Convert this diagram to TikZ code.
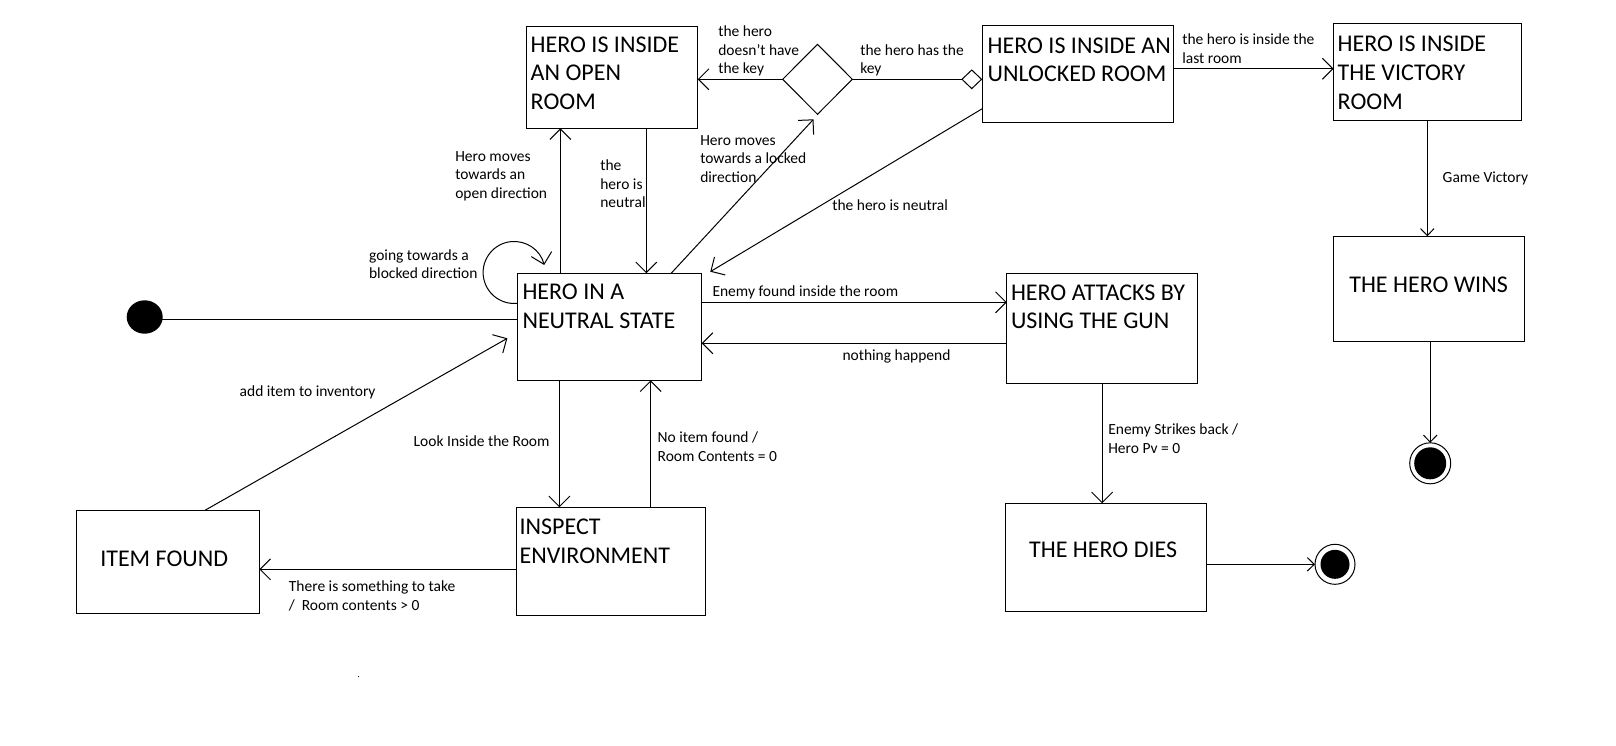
\documentclass[tikz,border=0pt]{standalone}
\usepackage{fontspec}
\setmainfont{Carlito}
\usetikzlibrary{arrows.meta,shapes.geometric,calc}
\begin{document}
\begin{tikzpicture}[x=1pt,y=-1pt,line width=1pt,
  every node/.style={inner sep=0pt,outer sep=0pt},
  box/.style 2 args={draw,rectangle,minimum width=#1,minimum height=#2},
  big/.style={font=\fontsize{24}{28.8}\selectfont,align=left,anchor=base west},
  small/.style={font=\fontsize{15.5}{18.5}\selectfont,align=left,anchor=base west},
  arr/.style={-{Straight Barb[length=10.5pt,width=21pt]}},
  arrs/.style={-{Straight Barb[length=7pt,width=13.5pt]}},
  dia/.style={-{Diamond[open,length=21pt,width=20pt]}}]
\fill[white] (0,0) rectangle (1616,745);
\useasboundingbox (0,0) rectangle (1616,745);

% states
\node[box={171.4pt}{102pt}] (openroom) at (612,77.3) {};
\node[box={191.5pt}{97pt}] (unlocked) at (1078,73.8) {};
\node[box={187.5pt}{96.6pt}] (victory) at (1427.3,72) {};
\node[box={191pt}{105pt}] (wins) at (1428.8,288.8) {};
\node[box={184.3pt}{107pt}] (neutral) at (609.5,326.8) {};
\node[box={190.7pt}{110pt}] (attack) at (1102.1,328.3) {};
\node[box={201pt}{108pt}] (dies) at (1106,557.3) {};
\node[box={189pt}{108pt}] (inspect) at (611.2,561.3) {};
\node[box={182.7pt}{103pt}] (item) at (168,561.8) {};
\node[draw,diamond,minimum width=69.6pt,minimum height=70pt] (dec) at (817.5,79.3) {};
\node[ellipse,fill=black,minimum width=36pt,minimum height=33.4pt] (init) at (144.7,317) {};
\node[circle,draw,fill=white,minimum size=40pt] (fin1) at (1335,564.3) {};
\fill (fin1.center) circle[radius=14.5];
\node[circle,draw,fill=white,minimum size=41pt] (fin2) at (1430.2,463.3) {};
\fill (fin2.center) circle[radius=16];

% state texts (anchor = baseline of the last line)
\node[big] (t-open) at (530.7,109.6) {HERO IS INSIDE\\AN OPEN\\ROOM};
\node[big] (t-unl) at (987.7,81.8) {HERO IS INSIDE AN\\UNLOCKED ROOM};
\node[big] (t-vic) at (1337.7,109) {HERO IS INSIDE\\THE VICTORY\\ROOM};
\node[big] (t-wins) at (1349.3,292.7) {THE HERO WINS};
\node[big] (t-neu) at (522.5,328.7) {HERO IN A\\NEUTRAL STATE};
\node[big] (t-att) at (1011,328.9) {HERO ATTACKS BY\\USING THE GUN};
\node[big] (t-dies) at (1029.2,557.7) {THE HERO DIES};
\node[big] (t-insp) at (519.6,563.3) {INSPECT\\ENVIRONMENT};
\node[big] (t-item) at (100.3,566.3) {ITEM FOUND};

% connectors
\coordinate (i1) at ($(init.east)+(-1,2.3)$);
\draw (i1) -- (i1 -| neutral.west);
\coordinate (u1) at ($(neutral.north west)+(43,0)$);
\draw[arr] (u1) -- (u1 |- openroom.south);
\coordinate (d1) at ($(openroom.south west)+(120,0)$);
\draw[arr] (d1) -- (d1 |- neutral.north);
\coordinate (l1) at ($(neutral.north east)+(-30.5,0)$);
\draw[arr] (l1) -- ($(dec.south)+(-4,5)$);
\draw[arr] (dec.west) -- (dec.west -| openroom.east);
\draw[dia] (dec.east) -- (dec.east -| unlocked.west);
\coordinate (n1) at ($(unlocked.south west)+(0,-13.6)$);
\draw[arr] (n1) -- ($(neutral.north east)+(8.6,-1.6)$);
\coordinate (v1) at ($(unlocked.north east)+(0,43.4)$);
\draw[arr] (v1) -- (v1 -| victory.west);
\draw[arrs] (victory.south) -- (victory.south |- wins.north);
\draw[arrs] (wins.south -| fin2.north) -- (fin2.north);
\draw[arr] ($(neutral.north west)+(0,30)$) arc[start angle=84,end angle=346,radius=31];
\coordinate (e1) at ($(neutral.north east)+(0,29)$);
\draw[arr] (e1) -- (e1 -| attack.west);
\coordinate (h1) at ($(attack.north west)+(0,70)$);
\draw[arr] (h1) -- (h1 -| neutral.east);
\draw[arr] (attack.south) -- (attack.south |- dies.north);
\coordinate (f1) at ($(dies.east)+(0,7)$);
\draw[arrs] (f1) -- (fin1.west);
\coordinate (k1) at ($(neutral.south west)+(42,0)$);
\draw[arr] (k1) -- (k1 |- inspect.north);
\coordinate (m1) at ($(inspect.north west)+(134,0)$);
\draw[arr] (m1) -- (m1 |- neutral.south);
\coordinate (t1) at ($(inspect.north west)+(0,62)$);
\draw[arr] (t1) -- (t1 -| item.east);
\coordinate (a1) at ($(item.north)+(37,0)$);
\draw[arr] (a1) -- ($(neutral.west)+(-10,11.5)$);

% transition labels (anchor = baseline of the last line)
\node[small] (lb1) at (718.3,73.7) {the hero\\doesn't have\\the key};
\node[small] (lb2) at (860.3,73.7) {the hero has the\\key};
\node[small] (lb3) at (700.3,182) {Hero moves\\towards a locked\\direction};
\node[small] (lb4) at (600.3,207.7) {the\\hero is\\neutral};
\node[small] (lb5) at (832.3,210) {the hero is neutral};
\node[small] (lb6) at (455.3,198) {Hero moves\\towards an\\open direction};
\node[small] (lb7) at (1182.3,63) {the hero is inside the\\last room};
\node[small] (lb8) at (1442.7,182.3) {Game Victory};
\node[small] (lb9) at (369.1,278.5) {going towards a\\blocked direction};
\node[small] (lb10) at (239.7,396) {add item to inventory};
\node[small] (lb11) at (712.5,296) {Enemy found inside the room};
\node[small] (lb12) at (842.5,360) {nothing happend};
\node[small] (lb13) at (1108.3,453.3) {Enemy Strikes back /\\Hero Pv = 0};
\node[small] (lb14) at (657.7,461) {No item found /\\Room Contents = 0};
\node[small] (lb15) at (413.7,446) {Look Inside the Room};
\node[small] (lb16) at (288.9,610) {There is something to take\\/\ \ Room contents > 0};

\fill (358.3,675.5) rectangle (359.3,677);
\end{tikzpicture}
\end{document}
